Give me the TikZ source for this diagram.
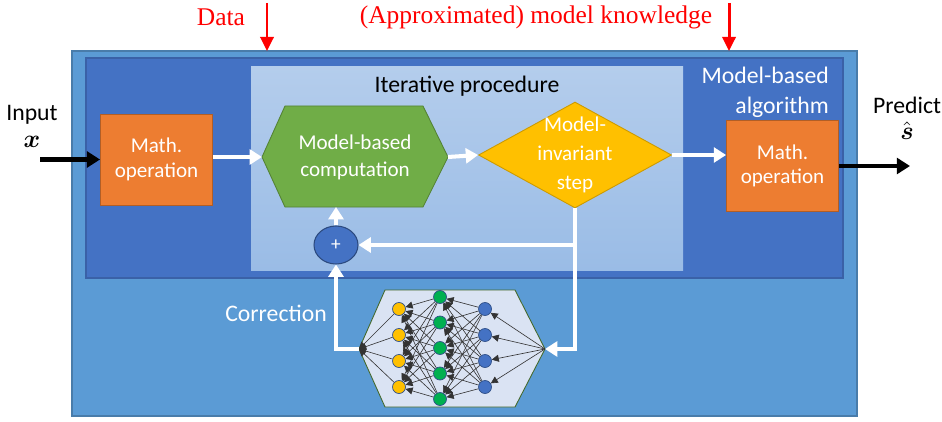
\documentclass[tikz,border=0pt]{standalone}
\usepackage{amsmath}
\usepackage{fontspec}
\setmainfont{Carlito}
\newfontfamily\redfont{Liberation Serif}
\usetikzlibrary{shapes.geometric,arrows.meta}

\definecolor{outerblue}{HTML}{5B9BD5}
\definecolor{innerblue}{HTML}{4472C4}
\definecolor{itertop}{HTML}{B4CDEC}
\definecolor{iterbot}{HTML}{9ABCE6}
\definecolor{mathorange}{HTML}{ED7D31}
\definecolor{compgreen}{HTML}{70AD47}
\definecolor{stepyellow}{HTML}{FFC000}
\definecolor{nnback}{HTML}{DAE3F3}
\definecolor{nngreen}{HTML}{00B050}
\definecolor{datared}{HTML}{FF0000}

\tikzset{
  whitearrow/.style={draw=white, line width=2.3pt, -{Triangle[length=7pt,width=8.5pt]}},
  blackarrow/.style={draw=black, line width=2.8pt, -{Triangle[length=7.5pt,width=9pt]}},
  redarrow/.style={draw=datared, line width=1.7pt, -{Triangle[length=8pt,width=7.5pt]}},
  nnarrow/.style={draw=black!80, line width=0.35pt, -{Triangle[length=4pt,width=4pt]}},
  mathbox/.style={rectangle, fill=mathorange, draw=mathorange!75!black, line width=0.5pt,
    minimum width=2.24cm, minimum height=1.82cm, text=white, align=center,
    font=\fontsize{12}{14}\selectfont},
  whitetext/.style={text=white, align=center, font=\fontsize{12}{15.5}\selectfont},
  headtext/.style={font=\fontsize{13.5}{17}\selectfont},
  neuron/.style={circle, draw=innerblue!70!black, line width=0.4pt, inner sep=0pt, minimum size=0.26cm}
}

\begin{document}
\begin{tikzpicture}[x=0.02cm, y=-0.02cm]
    \useasboundingbox (0,0) rectangle (942,422);
    % boxes
    \draw [fill=outerblue, draw=outerblue!80!black, line width=0.6pt] (72,51) rectangle (857,416);
    \draw [fill=innerblue, draw=innerblue!85!black, line width=0.6pt] (86,58) rectangle (843,278);
    \shade [top color=itertop, bottom color=iterbot] (251,67) rectangle (683,270);
    \node (iterlabel) at (467,86) [headtext] {Iterative procedure};
    \node (mbalg) at (835,92) [anchor=east, headtext, text=white, align=right] {Model-based\\algorithm};

    % top labels
    \node (data) at (221,17) [text=datared, font=\redfont\fontsize{14.5}{17}\selectfont] {Data};
    \node (know) at (536,17) [text=datared, font=\redfont\fontsize{14.5}{17}\selectfont] {(Approximated) model knowledge};
    \coordinate (datatop) at (267,3);
    \coordinate (dataend) at (267,51);
    \coordinate (knowtop) at (729,3);
    \coordinate (knowend) at (729,51);
    \draw [redarrow] (datatop) -- (dataend);
    \draw [redarrow] (knowtop) -- (knowend);

    % input and output
    \node (input) at (32,115) [headtext] {Input};
    \node (xvar) at (32,142) {\Large $\boldsymbol{x}$};
    \node (predict) at (907,105) [headtext] {Predict};
    \node (shat) at (907,131) {\Large $\hat{\boldsymbol{s}}$};
    \node (mathin) at (156.5,159.5) [mathbox] {Math.\\operation};
    \node (mathout) at (782.5,166) [mathbox] {Math.\\operation};
    \coordinate (instart) at (40,159.5);
    \coordinate (outend) at (910,166);
    \draw [blackarrow] (instart) -- (mathin.west);
    \draw [blackarrow] (mathout.east) -- (outend);

    % model-based computation
    \coordinate (compL) at (262,157);
    \coordinate (compR) at (448,157);
    \coordinate (compB) at (336,207);
    \draw [fill=compgreen, draw=compgreen!75!black, line width=0.5pt]
        (compL) -- (285,106) -- (423,106) -- (compR) -- (423,207) -- (285,207) -- cycle;
    \node (comp) at (355,157) [whitetext] {Model-based\\computation};

    % model-invariant step
    \node (step) at (575,155) [diamond, fill=stepyellow, draw=stepyellow!80!black, line width=0.5pt,
        minimum width=3.86cm, minimum height=2.12cm, inner sep=0pt] {};
    \node (steptext) at (575,155) [whitetext, font=\fontsize{12}{16.5}\selectfont] {Model-\\invariant\\step};

    % adder
    \node (plus) at (336,245) [ellipse, fill=innerblue, draw=innerblue!65!black, line width=0.6pt,
        minimum width=0.88cm, minimum height=0.76cm, inner sep=0pt, text=white,
        font=\fontsize{11}{13}\selectfont] {+};

    % network
    \coordinate (nnL) at (359,349);
    \coordinate (nnR) at (545,349);
    \draw [fill=nnback, draw=compgreen!60!black, line width=0.5pt]
        (nnL) -- (385,290) -- (515,290) -- (nnR) -- (515,407) -- (385,407) -- cycle;
    \foreach \i/\y in {1/309,2/335,3/361,4/387} {
        \node (o\i) at (399,\y) [neuron, fill=stepyellow] {};
        \node (b\i) at (485,\y) [neuron, fill=innerblue] {};
    }
    \foreach \j/\y in {1/297,2/322.5,3/348,4/373.5,5/399}
        \node (g\j) at (440,\y) [neuron, fill=nngreen] {};
    \foreach \i in {1,...,4} {
        \draw [nnarrow] (nnR) -- (b\i);
        \draw [nnarrow] (o\i) -- (nnL);
        \foreach \j in {1,...,5} {
            \draw [nnarrow] (b\i) -- (g\j);
            \draw [nnarrow] (g\j) -- (o\i);
        }
    }
    \node (corr) at (276,313) [headtext, text=white] {Correction};

    % white flow
    \draw [whitearrow] (mathin.east |- compL) -- (compL);
    \draw [whitearrow] (compR) -- (step.west);
    \draw [whitearrow] (step.east) -- (step.east -| mathout.west);
    \draw [whitearrow] (step.south) |- (nnR);
    \draw [whitearrow] (step.south |- plus.east) -- (plus.east);
    \draw [whitearrow] (nnL) -| (plus.south);
    \draw [whitearrow] (plus.north) -- (compB);
\end{tikzpicture}
\end{document}
